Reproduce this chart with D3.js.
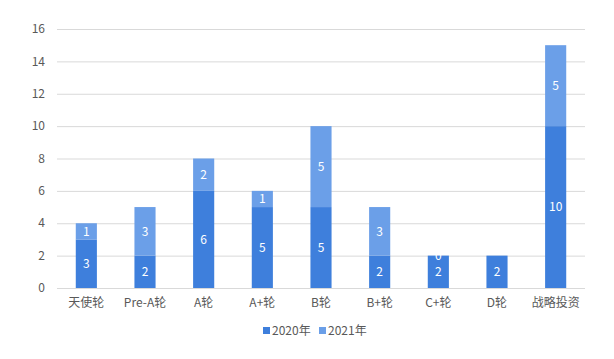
<!DOCTYPE html>
<html>
<head>
<meta charset="UTF-8">
<style>
body { margin: 0; background: #fff; }
text { font-family: "Microsoft YaHei", "Noto Sans CJK SC", sans-serif; }
.grid line { stroke: #d9d9d9; stroke-width: 1px; }
.axis text { fill: #595959; font-size: 12px; }
.lbl { fill: #fff; font-size: 12px; text-anchor: middle; }
</style>
</head>
<body>
<svg width="614" height="359"></svg>
<script src="https://cdn.jsdelivr.net/npm/d3@7"></script>
<script>

var categories = ["天使轮", "Pre-A轮", "A轮", "A+轮", "B轮", "B+轮", "C+轮", "D轮", "战略投资"];
var series2020 = [3, 2, 6, 5, 5, 2, 2, 2, 10];
var series2021 = [1, 3, 2, 1, 5, 3, 0, null, 5];
var seriesNames = ["2020年", "2021年"];
var colors = ["#3e7fdc", "#6b9fe8"];
var yTicks = [0, 2, 4, 6, 8, 10, 12, 14, 16];

var svg = d3.select("svg"),
    margin = {top: 29, right: 29, bottom: 71, left: 57},
    width = +svg.attr("width") - margin.left - margin.right,
    height = +svg.attr("height") - margin.top - margin.bottom,
    g = svg.append("g").attr("transform", "translate(" + margin.left + "," + margin.top + ")");

var x = d3.scaleBand().domain(categories).range([0, width]).paddingInner(0.64).paddingOuter(0.32);
var y = d3.scaleLinear().domain([0, 16]).range([height, 0]);

// gridlines
g.append("g")
    .attr("class", "grid")
  .selectAll("line")
  .data(yTicks)
  .enter().append("line")
    .attr("x1", 0).attr("x2", width)
    .attr("y1", function(d) { return y(d) + 0.5; })
    .attr("y2", function(d) { return y(d) + 0.5; });

// y labels
g.append("g")
    .attr("class", "axis")
  .selectAll("text")
  .data(yTicks)
  .enter().append("text")
    .attr("x", -12)
    .attr("y", function(d) { return y(d); })
    .attr("dy", "0.35em")
    .style("text-anchor", "end")
    .text(function(d) { return d; });

// x labels
g.append("g")
    .attr("class", "axis")
  .selectAll("text")
  .data(categories)
  .enter().append("text")
    .attr("x", function(d) { return x(d) + x.bandwidth() / 2; })
    .attr("y", height + 19)
    .style("text-anchor", "middle")
    .text(function(d) { return d; });

var rows = categories.map(function(c, i) {
  return {cat: c, v0: series2020[i], v1: series2021[i]};
});

rows.forEach(function(r) {
  var segs = [
    {v: r.v0, base: 0, c: colors[0]},
    {v: r.v1, base: r.v0, c: colors[1]}
  ];
  segs.forEach(function(s) {
    if (s.v === null) return;
    g.append("rect")
        .attr("x", x(r.cat))
        .attr("width", x.bandwidth())
        .attr("y", y(s.base + s.v))
        .attr("height", y(s.base) - y(s.base + s.v))
        .attr("fill", s.c);
  });
  segs.forEach(function(s) {
    if (s.v === null) return;
    g.append("text")
        .attr("class", "lbl")
        .attr("x", x(r.cat) + x.bandwidth() / 2)
        .attr("y", y(s.base + s.v / 2))
        .attr("dy", "0.35em")
        .text(s.v);
  });
});

// legend
var legend = svg.append("g").attr("transform", "translate(263,331)");
seriesNames.forEach(function(n, i) {
  var lg = legend.append("g").attr("transform", "translate(" + (i * 56) + ",0)");
  lg.append("rect").attr("x", 0).attr("y", -4).attr("width", 7).attr("height", 7).attr("fill", colors[i]);
  lg.append("text").attr("x", 9).attr("y", 0).attr("dy", "0.35em")
    .style("font-size", "12px").style("fill", "#595959").text(n);
});

</script>
</body>
</html>
